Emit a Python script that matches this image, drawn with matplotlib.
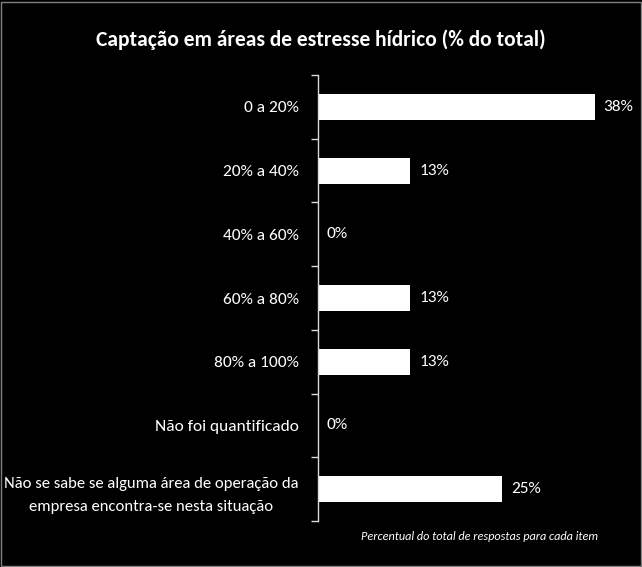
import matplotlib.pyplot as plt
from matplotlib.patches import Rectangle

categories = [
    '0 a 20%',
    '20% a 40%',
    '40% a 60%',
    '60% a 80%',
    '80% a 100%',
    'Não foi quantificado',
    'Não se sabe se alguma área de operação da\nempresa encontra-se nesta situação',
]
values = [37.5, 12.5, 0, 12.5, 12.5, 0, 25]
value_labels = ['38%', '13%', '0%', '13%', '13%', '0%', '25%']

title = 'Captação em áreas de estresse hídrico (% do total)'
note = 'Percentual do total de respostas para cada item'

plt.rcParams['font.family'] = ['Carlito', 'DejaVu Sans']

fig = plt.figure(figsize=(6.42, 5.67), dpi=100, facecolor='black')
ax = fig.add_axes([318 / 642, 46 / 567, 295 / 642, 446 / 567])
ax.set_facecolor('black')

pos = list(range(len(categories)))
ax.barh(pos, values, height=0.41, color='white')
ax.set_ylim(len(categories) - 0.5, -0.5)
ax.set_xlim(0, 40)

for p, v, lab in zip(pos, values, value_labels):
    ax.text(v + 1.2, p, lab, color='white', fontsize=12.5, va='center', ha='left')

ax.set_yticks(pos)
ax.set_yticklabels(categories, color='white', fontsize=12.5)
for t in ax.get_yticklabels():
    t.set_multialignment('center')
    if '\n' in t.get_text():
        t.set_fontsize(12)
        t.set_linespacing(1.85)
ax.tick_params(axis='y', which='major', length=0, pad=14)

# boundary ticks between categories
ax.set_yticks([i - 0.5 for i in range(len(categories) + 1)], minor=True)
ax.tick_params(axis='y', which='minor', length=5, color='#d9d9d9', width=1)

ax.set_xticks([])
for s in ['top', 'right', 'bottom']:
    ax.spines[s].set_visible(False)
ax.spines['left'].set_color('#d9d9d9')
ax.spines['left'].set_linewidth(1)

fig.text(0.5, 1 - 40 / 567, title, color='white', fontsize=15.5, fontweight='bold',
         ha='center', va='center')
fig.text(598 / 642, 1 - 537 / 567, note, color='white', fontsize=8.8, style='italic',
         ha='right', va='center')

fig.patches.append(Rectangle((0.002, 0.002), 0.996, 0.994, transform=fig.transFigure,
                             fill=False, edgecolor='#808080', linewidth=1))

fig.savefig('out.png', dpi=100, facecolor='black')
